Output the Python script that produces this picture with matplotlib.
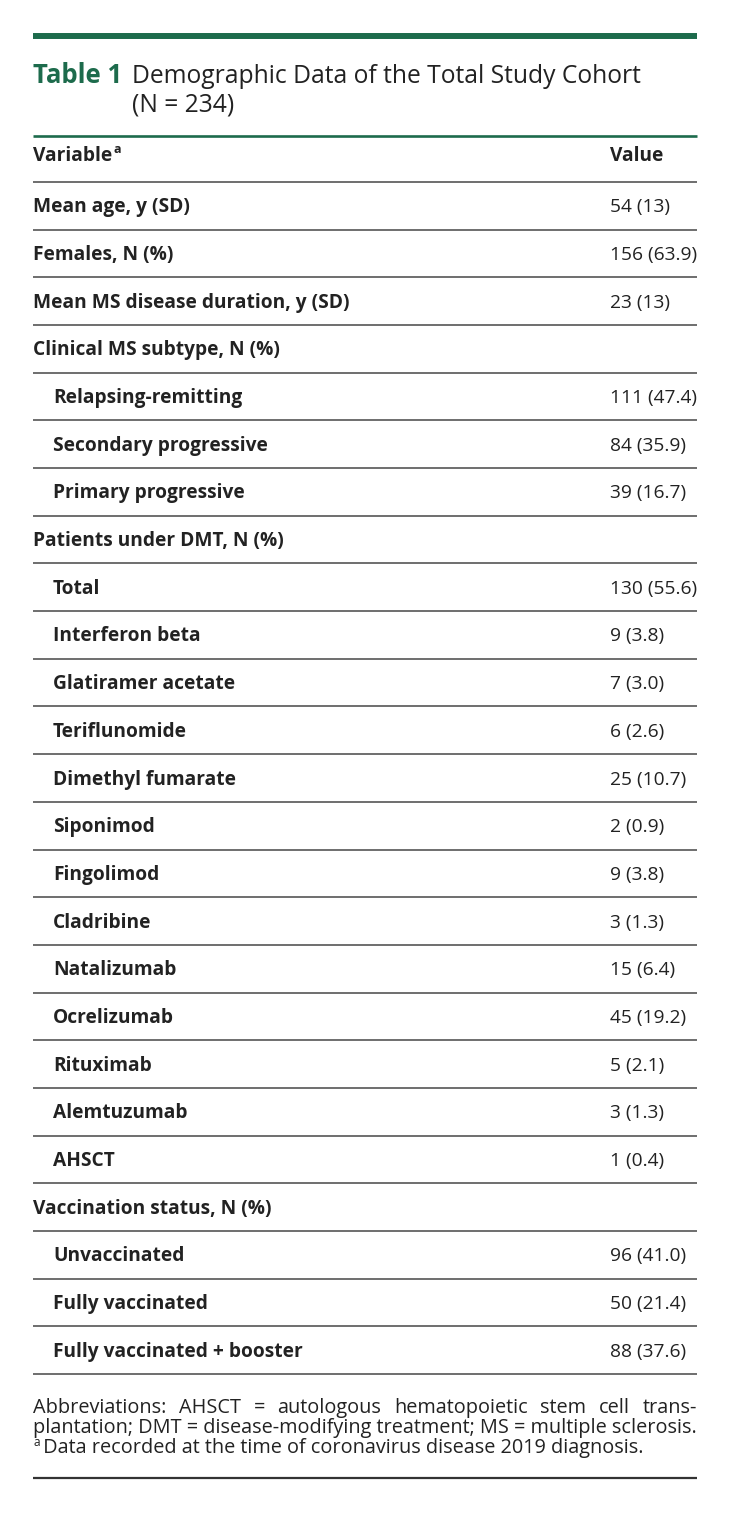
import matplotlib
matplotlib.use("Agg")
import matplotlib.pyplot as plt
from matplotlib.lines import Line2D

plt.rcParams['font.family'] = ['Open Sans', 'DejaVu Sans']

W, H = 730, 1513
GREEN = '#1d6b4c'
TEXT = '#222222'
RULE = '#555555'

labels = ['Mean age, y (SD)', 'Females, N (%)', 'Mean MS disease duration, y (SD)',
          'Clinical MS subtype, N (%)', 'Relapsing-remitting', 'Secondary progressive',
          'Primary progressive', 'Patients under DMT, N (%)', 'Total', 'Interferon beta',
          'Glatiramer acetate', 'Teriflunomide', 'Dimethyl fumarate', 'Siponimod',
          'Fingolimod', 'Cladribine', 'Natalizumab', 'Ocrelizumab', 'Rituximab',
          'Alemtuzumab', 'AHSCT', 'Vaccination status, N (%)', 'Unvaccinated',
          'Fully vaccinated', 'Fully vaccinated + booster']
values = ['54 (13)', '156 (63.9)', '23 (13)', '', '111 (47.4)', '84 (35.9)', '39 (16.7)',
          '', '130 (55.6)', '9 (3.8)', '7 (3.0)', '6 (2.6)', '25 (10.7)', '2 (0.9)',
          '9 (3.8)', '3 (1.3)', '15 (6.4)', '45 (19.2)', '5 (2.1)', '3 (1.3)', '1 (0.4)',
          '', '96 (41.0)', '50 (21.4)', '88 (37.6)']
indent = [0, 0, 0, 0, 1, 1, 1, 0, 1, 1, 1, 1, 1, 1, 1, 1, 1, 1, 1, 1, 1, 0, 1, 1, 1]

title_label = 'Table 1'
title_text = ['Demographic Data of the Total Study Cohort', '(N = 234)']
header = ['Variable', 'Value']
foot_line1 = 'Abbreviations: AHSCT = autologous hematopoietic stem cell trans-'
foot_line2 = 'plantation; DMT = disease-modifying treatment; MS = multiple sclerosis.'
foot_line3 = ' Data recorded at the time of coronavirus disease 2019 diagnosis.'

BODY = 13.8

fig = plt.figure(figsize=(W / 100, H / 100), dpi=100)
fig.patch.set_facecolor('white')


def fy(y):
    return 1 - y / H


def fx(x):
    return x / W


def hline(y, lw, color):
    fig.add_artist(Line2D([fx(33), fx(697)], [fy(y), fy(y)], lw=lw, color=color,
                          solid_capstyle='butt'))


renderer = fig.canvas.get_renderer()


def width_of(t):
    return t.get_window_extent(renderer).width


# top rules and title
hline(36, 4.3, GREEN)
fig.text(fx(33), fy(83), title_label, color=GREEN, fontsize=18.5, fontweight='bold', va='baseline')
fig.text(fx(132), fy(83), title_text[0], color=TEXT, fontsize=17.7, va='baseline')
fig.text(fx(132), fy(112), title_text[1], color=TEXT, fontsize=17.7, va='baseline')
hline(135.5, 1.9, GREEN)

# header
hv = fig.text(fx(33), fy(161), header[0], color=TEXT, fontsize=BODY, fontweight='bold',
              va='baseline')
sup_x = 33 + width_of(hv) + 1
fig.text(fx(sup_x), fy(153), 'a', color=TEXT, fontsize=9, fontweight='bold', va='baseline')
fig.text(fx(610), fy(161), header[1], color=TEXT, fontsize=BODY, fontweight='bold', va='baseline')

top = 182.0
row_h = (1374.0 - top) / len(labels)
hline(top, 1.2, RULE)
for i, (lab, val, ind) in enumerate(zip(labels, values, indent)):
    yc = top + row_h * (i + 0.5)
    fig.text(fx(33 + 20 * ind), fy(yc + 6.5), lab, color=TEXT, fontsize=BODY,
             fontweight='bold', va='baseline')
    if val:
        fig.text(fx(610), fy(yc + 6.5), val, color=TEXT, fontsize=BODY, va='baseline')
    hline(top + row_h * (i + 1), 1.2, RULE)

# footnote, first line justified across the table width
fs = 12.5
probe = fig.text(0, 0, foot_line2, fontsize=fs, alpha=0)
fs = fs * 664 / width_of(probe)
probe.remove()

words = foot_line1.split(' ')
wt = [fig.text(0, 0, w, fontsize=fs, color=TEXT, va='baseline') for w in words]
widths = [width_of(t) for t in wt]
gap = (664 - sum(widths)) / (len(words) - 1)
x = 33.0
for t, w in zip(wt, widths):
    t.set_position((fx(x), fy(1413)))
    x += w + gap
fig.text(fx(33), fy(1433), foot_line2, fontsize=fs, color=TEXT, va='baseline')
fig.text(fx(33), fy(1446), 'a', fontsize=fs * 0.6, color=TEXT, va='baseline')
fig.text(fx(38), fy(1453), foot_line3, fontsize=fs, color=TEXT, va='baseline')

hline(1478, 1.6, '#333333')

fig.savefig('out.png', dpi=100, facecolor='white')
